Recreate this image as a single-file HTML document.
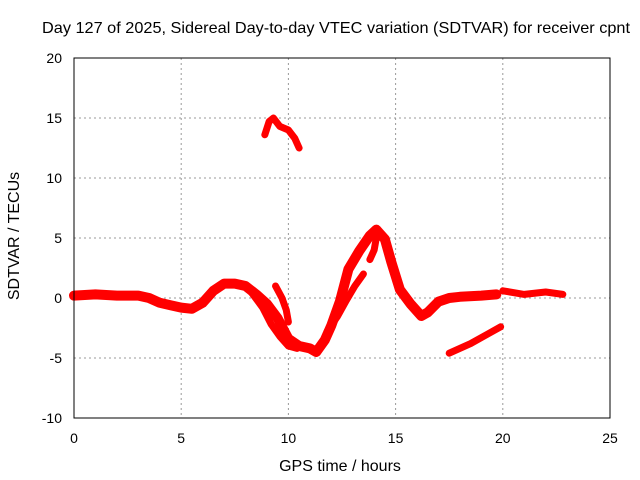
<!DOCTYPE html>
<html><head><meta charset="utf-8"><style>
body{margin:0;background:#fff;}
svg{display:block;font-family:"Liberation Sans",sans-serif;}
</style></head><body>
<svg id="chart" width="640" height="480" viewBox="0 0 640 480">
<text x="336" y="33" font-size="16" text-anchor="middle" fill="#000" textLength="588" lengthAdjust="spacingAndGlyphs">Day 127 of 2025, Sidereal Day-to-day VTEC variation (SDTVAR) for receiver cpnt</text>
<g id="grid"></g>
<g id="series"></g>
<rect x="74" y="58" width="536" height="360" fill="none" stroke="#000" stroke-width="1"/>
<g id="ticks" font-size="14" fill="#000"></g>
<text x="340" y="471" font-size="16" text-anchor="middle">GPS time / hours</text>
<text transform="translate(19,236) rotate(-90)" font-size="16" text-anchor="middle">SDTVAR / TECUs</text>
</svg>
<script>
const xTicks=[0,5,10,15,20,25];
const yTicks=[-10,-5,0,5,10,15,20];
const mainT=[0,1,2,3,3.5,4,4.5,5,5.5,6,6.5,7,7.5,8,8.5,9,9.5,10,10.5,11,11.3,11.7,12,12.4,12.8,13.3,13.8,14.1,14.5,14.8,15.2,15.7,16.2,16.5,17,17.5,18,19,19.7];
const mainV=[0.2,0.3,0.2,0.2,0,-0.4,-0.6,-0.8,-0.9,-0.4,0.6,1.2,1.2,1.0,0.3,-0.5,-1.7,-3.4,-4.0,-4.2,-4.5,-3.5,-2.3,-0.3,2.4,3.9,5.2,5.7,4.9,3.0,0.7,-0.5,-1.5,-1.2,-0.3,0.0,0.1,0.2,0.3];
const loopT=[8.3,8.8,9.2,9.6,10.0,10.4];
const loopV=[0.4,-0.8,-2.2,-3.2,-4.0,-4.2];
const loop2T=[9.4,9.7,9.9,10.0];
const loop2V=[1.0,0.0,-1.0,-2.0];
const riseT=[11.8,12.3,12.7,13.1,13.5];
const riseV=[-2.8,-1.5,-0.2,1.0,2.0];
const lateT=[20,21,22,22.8];
const lateV=[0.6,0.3,0.5,0.3];
const upperT=[8.9,9.1,9.3,9.6,10.0,10.3,10.5];
const upperV=[13.6,14.7,15.0,14.3,14.0,13.3,12.5];
const lowerT=[17.5,18.5,19.3,19.9];
const lowerV=[-4.6,-3.8,-3.0,-2.4];
const peakT=[14.1,14.0,13.8];
const peakV=[5.0,4.0,3.2];

const X=t=>74+t*536/25, Y=v=>298-v*12;
const ns="http://www.w3.org/2000/svg";
const grid=document.getElementById('grid'), ticks=document.getElementById('ticks'), series=document.getElementById('series');
xTicks.forEach(t=>{
  if(t>0&&t<25){const l=document.createElementNS(ns,'line');
  l.setAttribute('x1',X(t));l.setAttribute('x2',X(t));l.setAttribute('y1',58);l.setAttribute('y2',418);
  l.setAttribute('stroke','#999');l.setAttribute('stroke-dasharray','2,3');
  
  
  grid.appendChild(l);}
  const tx=document.createElementNS(ns,'text');
  tx.setAttribute('x',X(t));tx.setAttribute('y',443);tx.setAttribute('text-anchor','middle');tx.textContent=t;
  
  
  ticks.appendChild(tx);
});
yTicks.forEach(v=>{
  if(v>-10&&v<20){const l=document.createElementNS(ns,'line');
  l.setAttribute('x1',74);l.setAttribute('x2',610);l.setAttribute('y1',Y(v));l.setAttribute('y2',Y(v));
  l.setAttribute('stroke','#999');l.setAttribute('stroke-dasharray','2,3');
  
  
  grid.appendChild(l);}
  const tx=document.createElementNS(ns,'text');
  tx.setAttribute('x',62);tx.setAttribute('y',Y(v)+5);tx.setAttribute('text-anchor','end');tx.textContent=v;
  
  
  ticks.appendChild(tx);
});
[[mainT,mainV,'main-track'],[loopT,loopV,'loop-track'],[loop2T,loop2V,'loop2-track'],[riseT,riseV,'rise-track'],[lateT,lateV,'late-track'],[upperT,upperV,'upper-track'],[lowerT,lowerV,'lower-track'],[peakT,peakV,'peak-track']].forEach(([ts,vs,name])=>{
  const p=document.createElementNS(ns,'polyline');
  p.setAttribute('points',ts.map((t,i)=>X(t)+','+Y(vs[i])).join(' '));
  p.setAttribute('fill','none');p.setAttribute('stroke','#ff0000');p.setAttribute('stroke-width',name==='main-track'?10:7);
  p.setAttribute('stroke-linejoin','round');p.setAttribute('stroke-linecap','round');
  
  
  series.appendChild(p);
});
</script>
</body></html>
